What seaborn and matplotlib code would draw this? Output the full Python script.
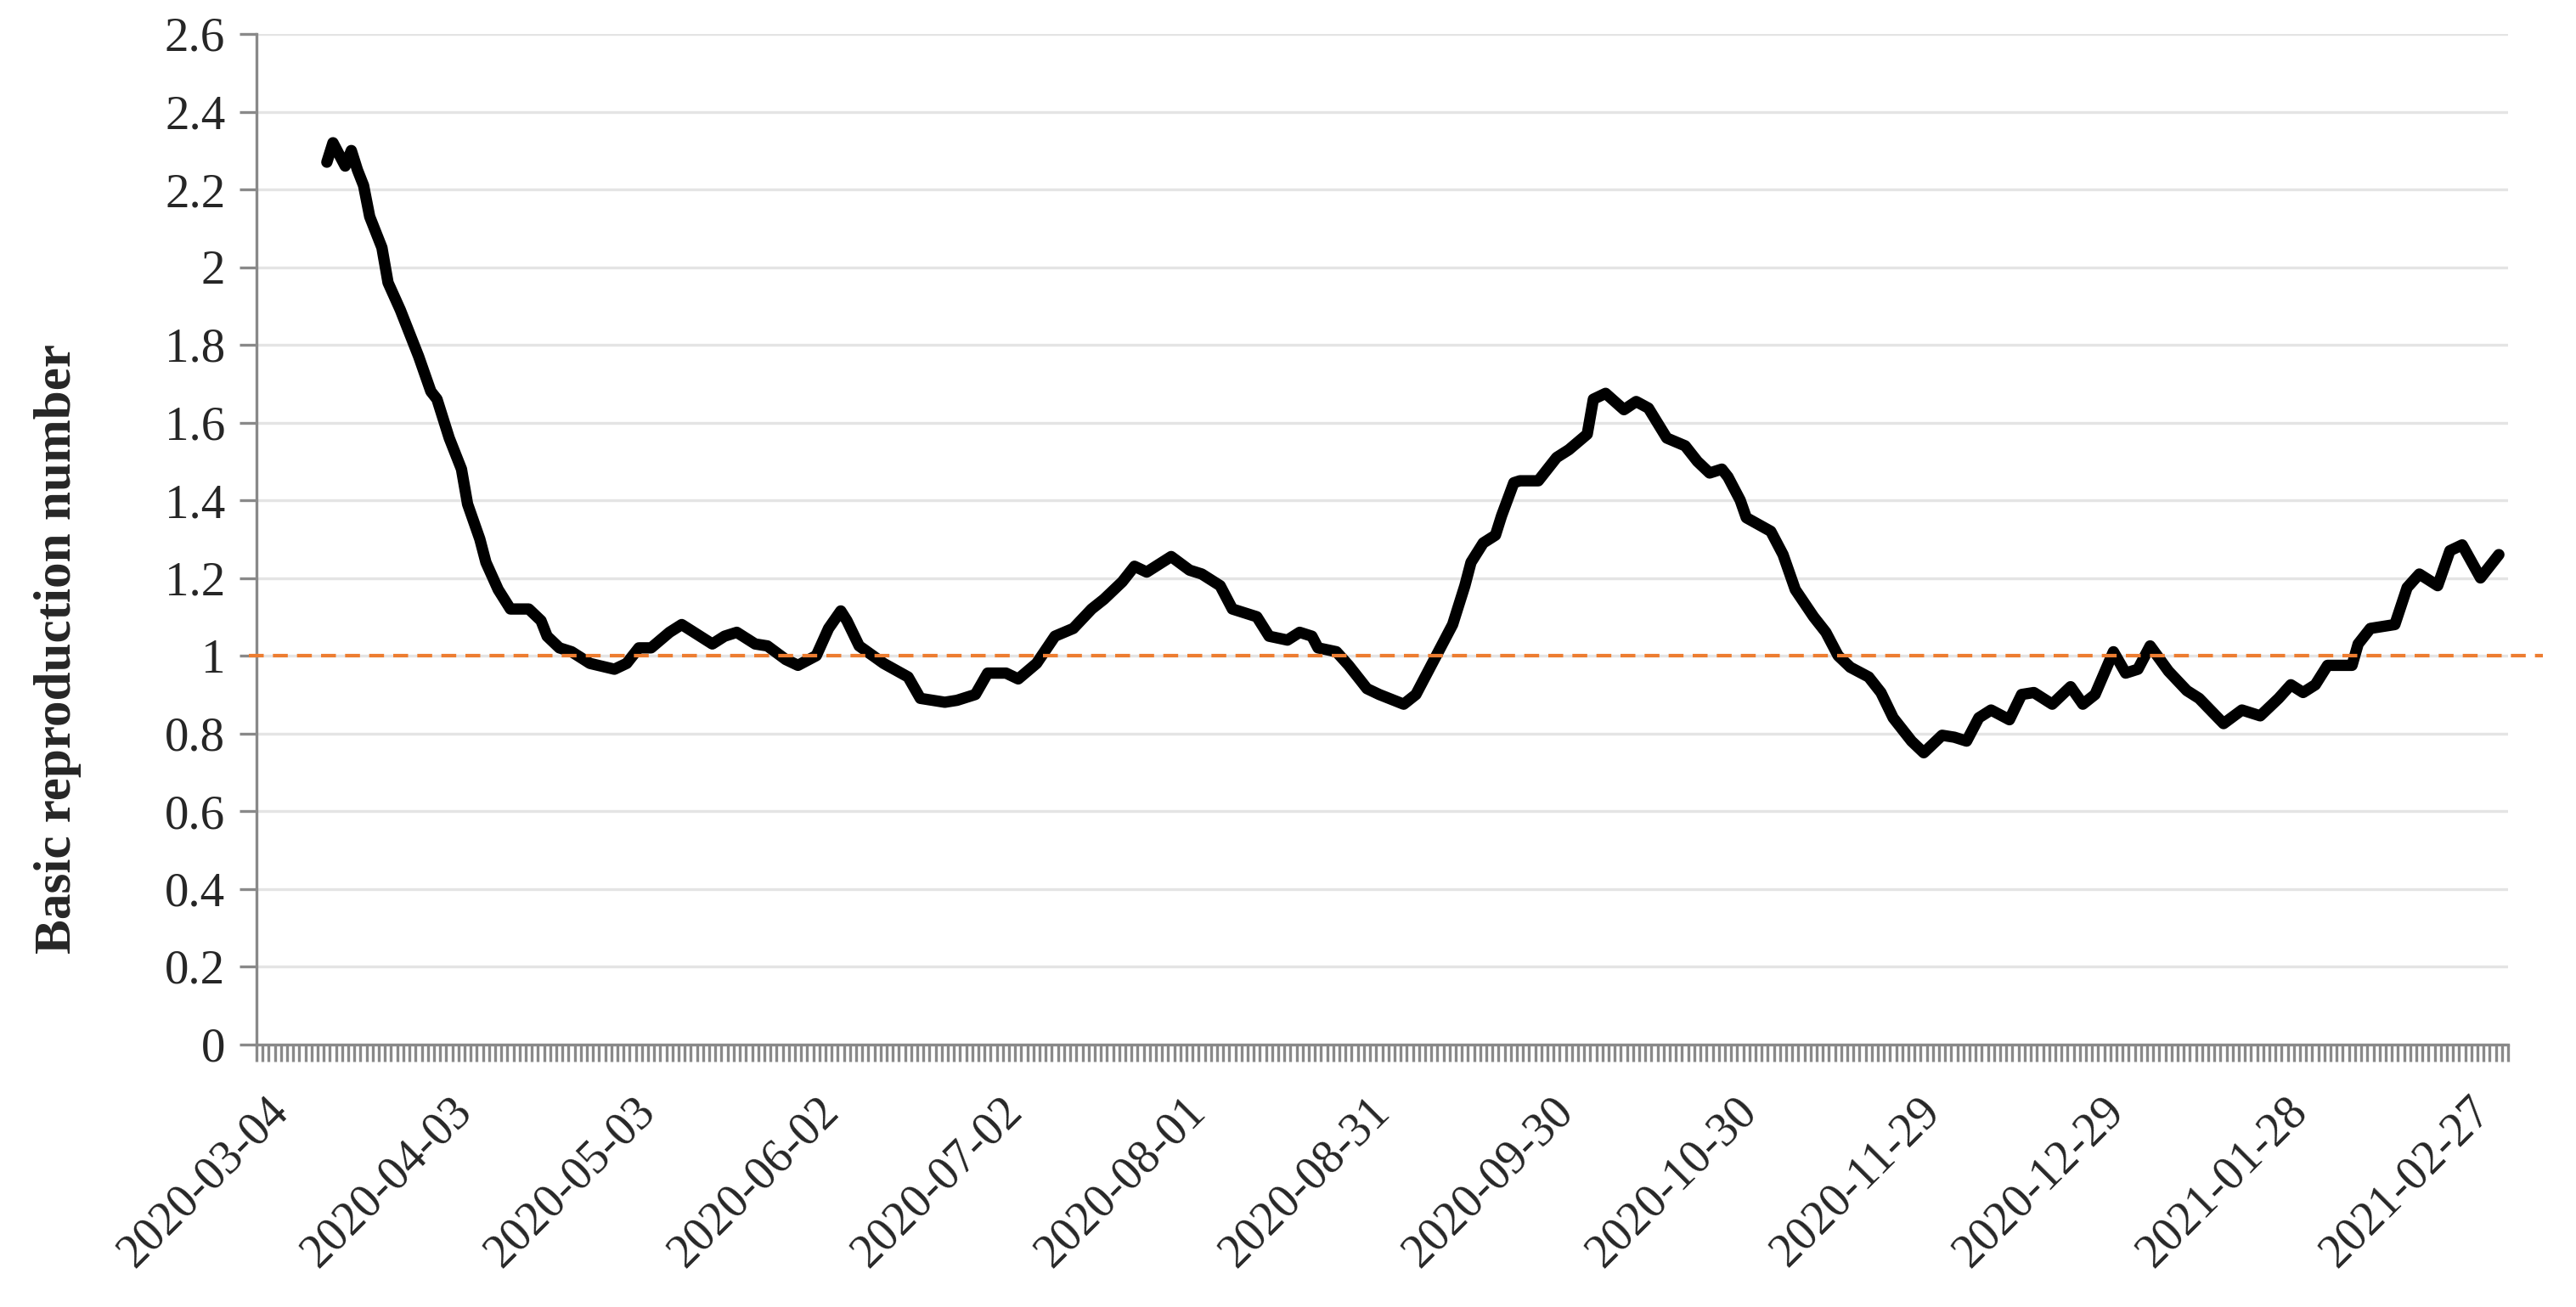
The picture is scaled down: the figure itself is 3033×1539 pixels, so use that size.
import numpy as np
import pandas as pd
import matplotlib
matplotlib.use("Agg")
import matplotlib.pyplot as plt
import matplotlib.dates as mdates
import seaborn as sns

# ---------------- data ----------------
start_date = "2020-03-03"          # first category on the axis
n_categories = 368                  # daily categories on the x axis
day_offsets = [11, 12, 14, 15, 16, 17, 18, 20, 21, 23, 25, 26, 28, 29, 31, 33, 34, 36, 37, 39,
               41, 44, 46, 47, 49, 51, 54, 58, 60, 62, 64, 67, 69, 71, 74, 76, 78, 81, 83, 86,
               88, 91, 93, 95, 96, 98, 102, 106, 108, 112, 114, 117, 119, 122, 124, 127, 130, 133, 136, 138,
               141, 143, 145, 149, 152, 154, 157, 159, 161, 163, 165, 168, 170, 172, 173, 176, 178, 181, 183, 187,
               189, 192, 194, 195, 197, 198, 200, 202, 203, 205, 206, 209, 212, 214, 217, 218, 220, 223, 225, 227,
               230, 233, 235, 237, 239, 240, 242, 243, 247, 249, 251, 254, 256, 258, 260, 263, 265, 267, 270, 272,
               275, 277, 279, 281, 283, 286, 288, 290, 293, 296, 298, 300, 303, 305, 307, 309, 312, 315, 317, 321,
               324, 327, 330, 332, 334, 336, 338, 342, 343, 345, 349, 351, 353, 356, 358, 360, 363, 366]
r_values = [2.27, 2.32, 2.26, 2.30, 2.25, 2.21, 2.13, 2.05, 1.96, 1.89, 1.81, 1.77, 1.68, 1.66, 1.56, 1.48, 1.39, 1.30, 1.24, 1.17,
            1.12, 1.12, 1.09, 1.05, 1.02, 1.01, 0.98, 0.965, 0.98, 1.02, 1.02, 1.06, 1.08, 1.06, 1.03, 1.05, 1.06, 1.03, 1.025, 0.99,
            0.975, 1.00, 1.07, 1.115, 1.09, 1.025, 0.98, 0.945, 0.89, 0.88, 0.885, 0.90, 0.955, 0.955, 0.94, 0.98, 1.05, 1.07, 1.12, 1.145,
            1.19, 1.23, 1.215, 1.255, 1.22, 1.21, 1.18, 1.12, 1.11, 1.10, 1.05, 1.04, 1.06, 1.05, 1.02, 1.01, 0.975, 0.915, 0.90, 0.875,
            0.90, 0.99, 1.05, 1.08, 1.18, 1.24, 1.29, 1.31, 1.36, 1.445, 1.45, 1.45, 1.51, 1.53, 1.57, 1.66, 1.675, 1.633, 1.654, 1.637,
            1.56, 1.54, 1.50, 1.47, 1.48, 1.46, 1.40, 1.355, 1.32, 1.26, 1.17, 1.10, 1.06, 1.00, 0.97, 0.945, 0.905, 0.84, 0.78, 0.75,
            0.795, 0.79, 0.78, 0.84, 0.86, 0.835, 0.90, 0.905, 0.875, 0.92, 0.875, 0.90, 1.01, 0.955, 0.965, 1.025, 0.96, 0.91, 0.89, 0.825,
            0.86, 0.845, 0.89, 0.925, 0.905, 0.925, 0.975, 0.975, 1.03, 1.07, 1.08, 1.175, 1.21, 1.18, 1.27, 1.285, 1.20, 1.26]
label_dates = ["2020-03-04", "2020-04-03", "2020-05-03", "2020-06-02", "2020-07-02", "2020-08-01",
               "2020-08-31", "2020-09-30", "2020-10-30", "2020-11-29", "2020-12-29", "2021-01-28", "2021-02-27"]
y_ticks = [0, 0.2, 0.4, 0.6, 0.8, 1.0, 1.2, 1.4, 1.6, 1.8, 2.0, 2.2, 2.4, 2.6]
y_tick_labels = ["0", "0.2", "0.4", "0.6", "0.8", "1", "1.2", "1.4", "1.6", "1.8", "2", "2.2", "2.4", "2.6"]
threshold = 1.0
y_label = "Basic reproduction number"

# ---------------- style ----------------
sns.set_theme(style="white")
plt.rcParams["font.family"] = ["Liberation Serif", "DejaVu Serif"]
axis_gray = "#898989"

W, H, DPI = 3033, 1539, 200
fig = plt.figure(figsize=(W / DPI, H / DPI), dpi=DPI)
left, right, top, bottom = 302, 2953, 40, 1229.5
ax = fig.add_axes([left / W, 1 - bottom / H, (right - left) / W, (bottom - top) / H])

dates = pd.Timestamp(start_date) + pd.to_timedelta(day_offsets, unit="D")
df = pd.DataFrame({"date": dates, "R": r_values})
sns.lineplot(data=df, x="date", y="R", ax=ax, color="black", linewidth=4.8,
             solid_joinstyle="round", solid_capstyle="round", zorder=2)

# threshold dashed line (extends slightly past the plot area as in the original)
ax.plot([-0.0034, 1.0155], [threshold, threshold], transform=ax.get_yaxis_transform(),
        color="#ED7D31", lw=1.5, linestyle=(0, (4.2, 2.6)), clip_on=False, zorder=3)

# x axis: daily category ticks, labels every 30 days
x0 = mdates.date2num(pd.Timestamp(start_date)) - 0.5
ax.set_xlim(x0, x0 + n_categories)
ax.set_xticks(x0 + np.arange(n_categories + 1), minor=True)
ax.set_xticks(mdates.date2num(pd.to_datetime(label_dates)))
ax.set_xticklabels(label_dates, rotation=45, ha="right", va="top", rotation_mode="anchor",
                   fontsize=20)
ax.tick_params(axis="x", which="major", length=0, pad=19)
ax.tick_params(axis="x", which="minor", length=7.2, width=1.2, color=axis_gray, direction="out",
               bottom=True)

# y axis
ax.set_ylim(0, 2.6)
ax.set_yticks(y_ticks)
ax.set_yticklabels(y_tick_labels, fontsize=20.5)
ax.tick_params(axis="y", which="major", length=7.2, width=1.2, color=axis_gray, direction="out",
               pad=6, left=True)

ax.yaxis.grid(True, color="#E4E4E4", lw=1.2)
ax.xaxis.grid(False)
ax.set_axisbelow(True)
for s in ["top", "right"]:
    ax.spines[s].set_visible(False)
for s in ["left", "bottom"]:
    ax.spines[s].set_color(axis_gray)
    ax.spines[s].set_linewidth(1.2)

ax.set_xlabel("")
ax.set_ylabel("")
fig.text(68 / W, 1 - 764 / H, y_label, rotation=90, ha="center", va="center",
         fontsize=22, fontweight="bold")

fig.savefig("out.png", dpi=DPI, facecolor="white")
